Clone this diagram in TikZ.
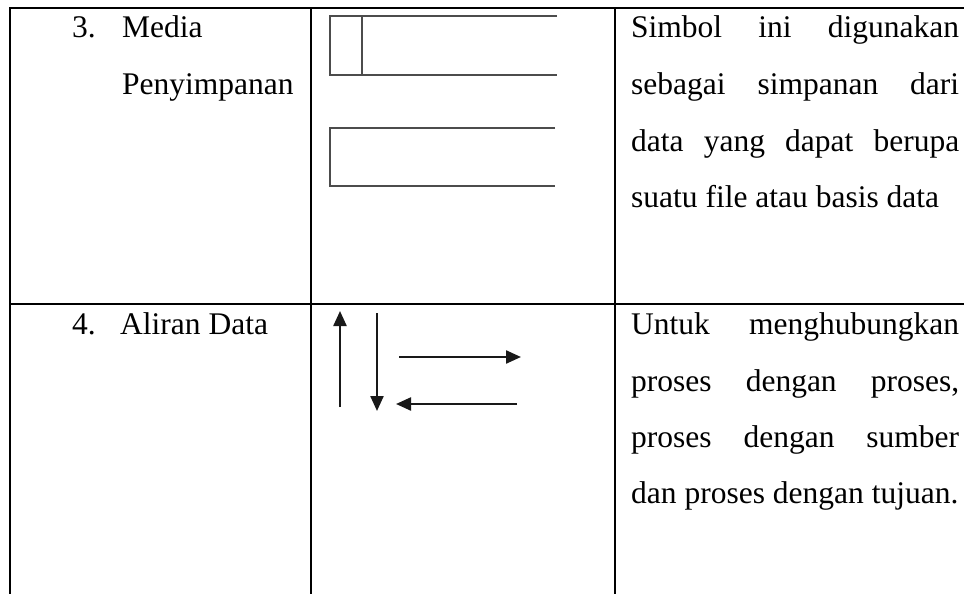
\documentclass[tikz,border=0pt]{standalone}
\usepackage{fontspec}
\setmainfont{Liberation Serif}
\usetikzlibrary{arrows.meta}
\begin{document}
\begin{tikzpicture}[x=1pt,y=-1pt,
  rule/.style={line width=2.2pt, line cap=rect},
  symline/.style={line width=2pt, draw=black!70},
  flow/.style={line width=2.3pt, draw=black!90, -{Triangle[length=15pt,width=13pt]}},
  txt/.style={anchor=base west, inner sep=0pt, font=\fontsize{31.5}{38}\selectfont}]
\useasboundingbox (0,0) rectangle (964,594);

% table rules
\coordinate (tl) at (10,8);   \coordinate (tr) at (964,8);
\coordinate (ml) at (10,304); \coordinate (mr) at (964,304);
\draw[rule] (tl) -- (tr);
\draw[rule] (ml) -- (mr);
\draw[rule] (10,8) -- (10,594);
\draw[rule] (311,8) -- (311,594);
\draw[rule] (615,8) -- (615,594);

% first column
\node[txt] (n3) at (72,38) {3.};
\node[txt] (media) at (122,38) {Media};
\node[txt] (peny) at (122,94.5) {Penyimpanan};
\node[txt] (n4) at (72,334.5) {4.};
\node[txt] (aliran) at (120,334.5) {Aliran Data};

% data store symbols
\coordinate (s1a) at (557,16); \coordinate (s1b) at (330,16);
\coordinate (s1c) at (330,75); \coordinate (s1d) at (557,75);
\draw[symline] (s1a) -- (s1b) -- (s1c) -- (s1d);
\draw[symline] (362,16) -- (362,75);
\coordinate (s2a) at (555,128); \coordinate (s2b) at (330,128);
\coordinate (s2c) at (330,186); \coordinate (s2d) at (555,186);
\draw[symline] (s2a) -- (s2b) -- (s2c) -- (s2d);

% data flow arrows
\coordinate (u0) at (340,407); \coordinate (u1) at (340,311);
\coordinate (d0) at (377,313); \coordinate (d1) at (377,411);
\coordinate (r0) at (399,357); \coordinate (r1) at (521,357);
\coordinate (l0) at (517,404); \coordinate (l1) at (396,404);
\draw[flow] (u0) -- (u1);
\draw[flow] (d0) -- (d1);
\draw[flow] (r0) -- (r1);
\draw[flow] (l0) -- (l1);

% descriptions
\node[txt] (a1) at (631,38)    {\makebox[328pt][s]{Simbol ini digunakan}};
\node[txt] (a2) at (631,94.5)  {\makebox[328pt][s]{sebagai simpanan dari}};
\node[txt] (a3) at (631,151)   {\makebox[328pt][s]{data yang dapat berupa}};
\node[txt] (a4) at (631,207.5) {suatu file atau basis data};
\node[txt] (b1) at (631,334.5) {\makebox[328pt][s]{Untuk menghubungkan}};
\node[txt] (b2) at (631,391)   {\makebox[328pt][s]{proses dengan proses,}};
\node[txt] (b3) at (631,447)   {\makebox[328pt][s]{proses dengan sumber}};
\node[txt] (b4) at (631,503.5) {dan proses dengan tujuan.};
\end{tikzpicture}
\end{document}
